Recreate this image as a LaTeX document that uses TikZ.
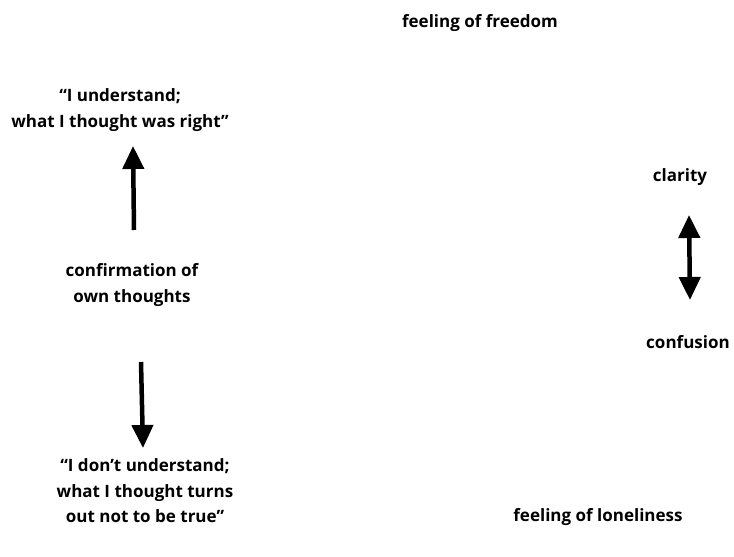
\documentclass[tikz,border=0pt]{standalone}
\usepackage{fontspec}
\setmainfont{Open Sans}
\usetikzlibrary{arrows.meta}
\begin{document}
\begin{tikzpicture}[x=1bp,y=-1bp]
      \tikzstyle{label}=[
        font=\bfseries\fontsize{17bp}{25.5bp}\selectfont,
        align=center,
        anchor=center,
        inner sep=0pt
      ]
      \tikzstyle{arrow} = [line width=4.5bp, -{Triangle[width=21bp,length=23bp]}, draw=black]
      \tikzstyle{twoway} = [line width=4.5bp, {Triangle[width=21bp,length=23bp]}-{Triangle[width=21bp,length=23bp]}, draw=black]

      \useasboundingbox (0,0) rectangle (734,557);

      \node[label] (freedom)    at (480, 23)  {feeling of freedom};
      \node[label] (understand) at (120, 110) {“I understand;\\what I thought was right”};
      \node[label] (confirm)    at (132, 285) {confirmation of\\own thoughts};
      \node[label] (dontknow)   at (145, 491) {“I don’t understand;\\what I thought turns\\out not to be true”};
      \node[label] (clarity)    at (680, 177) {clarity};
      \node[label] (confusion)  at (688, 342) {confusion};
      \node[label] (lonely)     at (598, 517) {feeling of loneliness};

      \coordinate (upfoot)   at (134, 230);
      \coordinate (uptip)    at (133, 146);
      \coordinate (downfoot) at (141, 362);
      \coordinate (downtip)  at (143, 448);
      \coordinate (cltip)    at (689, 215);
      \coordinate (cftip)    at (690, 300);

      \draw[arrow] (upfoot) -- (uptip);
      \draw[arrow] (downfoot) -- (downtip);
      \draw[twoway] (cftip) -- (cltip);
    \end{tikzpicture}
\end{document}
